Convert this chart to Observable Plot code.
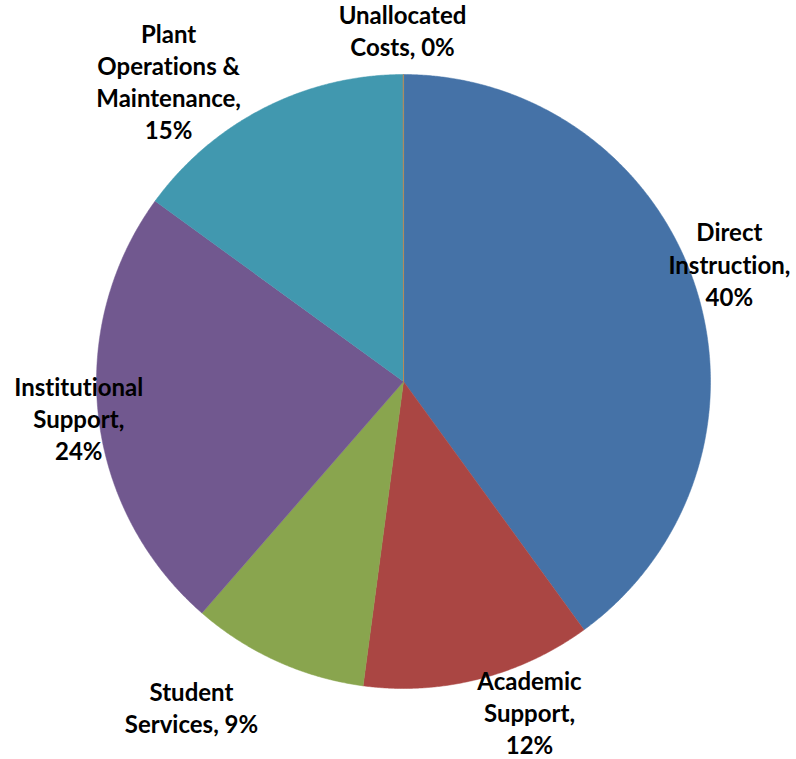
<!DOCTYPE html>
<html><head><meta charset="utf-8">
<script src="https://cdn.jsdelivr.net/npm/d3@7"></script>
<script src="https://cdn.jsdelivr.net/npm/@observablehq/plot@0.6"></script>
<style>html,body{margin:0;padding:0;background:#fff;overflow:hidden} svg text{font-variant-ligatures:none;font-feature-settings:"liga" 0}</style>
</head><body><div id="chart"></div>
<script>
// ---- data ----
const categories = ["Direct Instruction", "Academic Support", "Student Services", "Institutional Support", "Plant Operations & Maintenance", "Unallocated Costs"];
const values = [40.0, 12.1, 9.3, 23.6, 15.0, 0.0];
const labelText = ["Direct\nInstruction,", "Academic\nSupport,", "Student\nServices,", "Institutional\nSupport,", "Plant\nOperations &\nMaintenance,", "Unallocated\nCosts,"];
const labelBreak = ["\n", "\n", " ", "\n", "\n", " "];
const colors = ["#4572a7", "#aa4643", "#89a54e", "#71588f", "#4198af", "#db843d"];
// ---- layout (pixels) ----
const labelNudge = [[-7, -10], [40, -9], [-68, 6], [23, -3], [-76, 11], [-1, -2]];

const W = 796, H = 759, CX = 403, CY = 381, R = 307;
const total = d3.sum(values);
const arcs = d3.pie().sort(null).value(d => d)(values);

// slice polygons in unit-radius coordinates (y up)
const polys = [];
arcs.forEach((a, i) => {
  const name = categories[i];
  polys.push({name, x: 0, y: 0});
  const n = Math.max(2, Math.ceil((a.endAngle - a.startAngle) / 0.005));
  for (let k = 0; k <= n; k++) {
    const t = a.startAngle + (a.endAngle - a.startAngle) * k / n;
    polys.push({name, x: Math.sin(t), y: Math.cos(t)});
  }
});

// labels at the mid-angle outside the pie, with layout nudges
const labelR = 350 / R;
const labels = arcs.map((a, i) => {
  const m = (a.startAngle + a.endAngle) / 2;
  const pct = Math.round(values[i] / total * 100) + "%";
  return {
    name: categories[i],
    x: Math.sin(m) * labelR + labelNudge[i][0] / R,
    y: Math.cos(m) * labelR - labelNudge[i][1] / R,
    text: labelText[i] + labelBreak[i] + pct
  };
});

const chart = Plot.plot({
  width: W, height: H,
  margin: 0,
  x: {domain: [-CX / R, (W - CX) / R], axis: null},
  y: {domain: [-(H - CY) / R, CY / R], axis: null},
  color: {domain: categories, range: colors},
  style: {background: "#fff"},
  marks: [
    Plot.line(polys, {x: "x", y: "y", z: "name", fill: "name", stroke: "name", strokeWidth: 0.5, curve: "linear-closed"}),
    Plot.text(labels, {
      x: "x", y: "y", text: "text",
      fontSize: 24, fontWeight: "bold", fontFamily: "Lato",
      lineHeight: 1.34, fill: "#000",
      textAnchor: "middle", lineAnchor: "middle"
    })
  ]
});
document.getElementById("chart").appendChild(chart);
</script>
</body></html>
